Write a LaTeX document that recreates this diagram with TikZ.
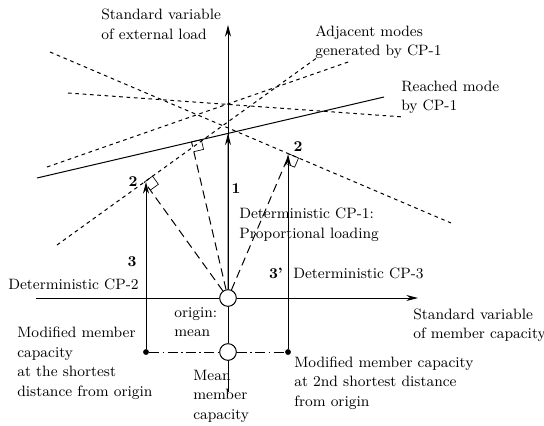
\documentclass[tikz,border=0pt]{standalone}
\usepackage{tikz}
\usetikzlibrary{arrows.meta, positioning, calc}

\begin{document}
\begin{tikzpicture}[
    x=0.6pt, y=-0.6pt,
    axis/.style={semithick},
    arrow/.style={-{Stealth[length=7pt, width=3.6pt]}, semithick},
    mode/.style={semithick, dash pattern=on 2.2pt off 2.2pt},
    perp/.style={semithick, dash pattern=on 5pt off 3pt},
    chain/.style={semithick, dash pattern=on 6pt off 2pt on 1pt off 2pt},
    pt/.style={circle, draw, fill=white, semithick, minimum size=10pt, inner sep=0pt},
    dot/.style={circle, fill, minimum size=3.5pt, inner sep=0pt},
    txt/.style={font=\fontsize{9}{11.7}\selectfont, align=left, anchor=west, inner sep=0pt},
    num/.style={font=\fontsize{9}{11.7}\selectfont\bfseries, inner sep=0pt}
]
  \useasboundingbox (0,0) rectangle (544,425);

  % Origin, mean and modified capacities
  \node[pt] (O) at (228,298) {};
  \node[pt] (M) at (228,352) {};
  \node[dot] (L) at (146,352) {};
  \node[dot] (R) at (288,352) {};

  % Axes
  \coordinate (xl) at (36,298);
  \coordinate (xr) at (418,298);
  \coordinate (yt) at (228,25);
  \coordinate (yb) at (228,392);
  \draw[axis] (xl) -- (O);
  \draw[arrow] (O) -- (xr);
  \draw[arrow] (O) -- (yt);
  \draw[axis] (O) -- (M) -- (yb);
  \draw[chain] (L) -- (M) -- (R);

  % Reached mode
  \coordinate (r1) at (37,178);
  \coordinate (r2) at (384,97);
  \draw[axis] (r1) -- (r2);

  % Adjacent modes
  \coordinate (a1) at (50,52);
  \coordinate (a2) at (451,223);
  \coordinate (b1) at (68,93);
  \coordinate (b2) at (404,117);
  \coordinate (c1) at (47,167);
  \coordinate (c2) at (351,61);
  \coordinate (d1) at (57,245);
  \coordinate (d2) at (318,57);
  \draw[mode] (a1) -- (a2);
  \draw[mode] (b1) -- (b2);
  \draw[mode] (c1) -- (c2);
  \draw[mode] (d1) -- (d2);

  % Shortest distance points
  \coordinate (fM) at ($(r1)!(O)!(r2)$);
  \coordinate (fL) at ($(d1)!(O)!(d2)$);
  \coordinate (fR) at ($(a1)!(O)!(a2)$);
  \foreach \f/\e in {fM/r2, fL/d2, fR/a2}
    \draw[thin] (\f) -- ($(\f)!6pt!(\e)$) -- ($(\f)!6pt!(\e) + (\f)!6pt!(O) - (\f)$) -- ($(\f)!6pt!(O)$);
  \draw[perp] (O) -- (fL);
  \draw[perp] (O) -- (fM);
  \draw[perp] (O) -- (fR);

  % Check points
  \coordinate (hit) at (intersection of r1--r2 and O--yt);
  \draw[arrow] (O) -- (hit);
  \draw[arrow] (L) -- (L |- fL);
  \draw[arrow] (R) -- (R |- fR);

  % Step numbers
  \node[num] (n1) at (236,189) {1};
  \node[num, left=4pt of fL] (n2l) {2};
  \node[num] (n2r) at (298,147) {2};
  \node[num] (n3) at (132,262) {3};
  \node[num] (n3p) at (276,273) {3'};

  % Labels
  \node[txt] (ylab) at (101,24.5) {Standard variable\\of external load};
  \node[txt] (adj) at (315,42) {Adjacent modes\\generated by CP-1};
  \node[txt] (reach) at (401,97.5) {Reached mode\\by CP-1};
  \node[txt] (cp1) at (239,225) {Deterministic CP-1:\\Proportional loading};
  \node[txt] (cp2) at (8,284) {Deterministic CP-2};
  \node[txt] (cp3) at (293,273) {Deterministic CP-3};
  \node[txt] (xlab) at (413,325) {Standard variable\\of member capacity};
  \node[txt] (orig) at (174,322) {origin:\\mean};
  \node[txt] (modl) at (17,363) {Modified member\\capacity\\at the shortest\\distance from origin};
  \node[txt] (mean) at (193,396) {Mean\\member\\capacity};
  \node[txt] (modr) at (294,383) {Modified member capacity\\at 2nd shortest distance\\from origin};
\end{tikzpicture}
\end{document}
